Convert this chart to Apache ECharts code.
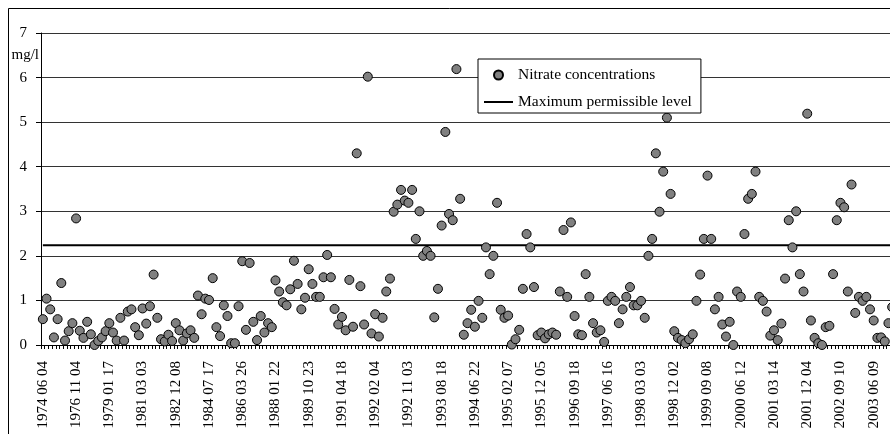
<!DOCTYPE html>
<html><head><meta charset="utf-8">
<script src="https://cdn.jsdelivr.net/npm/echarts@6/dist/echarts.min.js"></script>
<style>html,body{margin:0;padding:0;background:#fff}#c{width:890px;height:434px}</style>
</head><body><div id="c"></div>
<script>
const dateLabels = ["1974 06 04","1976 11 04","1979 01 17","1981 03 03","1982 12 08","1984 07 17","1986 03 26","1988 01 22","1989 10 23","1991 04 18","1992 02 04","1992 11 03","1993 08 18","1994 06 22","1995 02 07","1995 12 05","1996 09 18","1997 06 16","1998 03 03","1998 12 02","1999 09 08","2000 06 12","2001 03 14","2001 12 04","2002 09 10","2003 06 09"];
const nitrate = [
0.58,1.04,0.80,0.17,0.58,1.39,0.10,0.31,0.49,2.84,
0.32,0.16,0.52,0.24,0.00,0.09,0.17,0.31,0.49,0.28,
0.10,0.61,0.10,0.75,0.80,0.40,0.22,0.82,0.48,0.87,
1.58,0.61,0.13,0.08,0.23,0.09,0.49,0.33,0.10,0.26,
0.33,0.16,1.11,0.69,1.04,1.01,1.50,0.40,0.20,0.89,
0.65,0.04,0.04,0.87,1.88,0.34,1.84,0.52,0.11,0.65,
0.28,0.49,0.40,1.45,1.20,0.96,0.89,1.25,1.89,1.37,
0.80,1.06,1.70,1.37,1.08,1.08,1.52,2.02,1.52,0.81,
0.46,0.63,0.33,1.46,0.41,4.30,1.32,0.46,6.02,0.26,
0.69,0.19,0.61,1.20,1.49,2.99,3.15,3.48,3.24,3.19,
3.48,2.38,3.00,2.00,2.11,2.00,0.62,1.26,2.68,4.78,
2.94,2.80,6.19,3.28,0.23,0.49,0.79,0.41,0.99,0.61,
2.19,1.59,2.00,3.19,0.79,0.61,0.66,0.01,0.13,0.34,
1.26,2.49,2.19,1.30,0.22,0.28,0.15,0.24,0.28,0.23,
1.20,2.58,1.08,2.75,0.65,0.24,0.22,1.59,1.08,0.49,
0.28,0.33,0.07,0.99,1.08,0.99,0.49,0.80,1.08,1.30,
0.89,0.89,0.99,0.61,2.00,2.38,4.30,2.99,3.89,5.10,
3.39,0.31,0.16,0.11,0.04,0.13,0.24,0.99,1.58,2.38,
3.80,2.38,0.80,1.08,0.46,0.19,0.52,0.00,1.20,1.08,
2.49,3.28,3.39,3.89,1.08,0.99,0.75,0.21,0.33,0.11,
0.48,1.49,2.80,2.19,3.00,1.59,1.20,5.19,0.55,0.16,
0.04,0.00,0.40,0.43,1.59,2.80,3.19,3.09,1.20,3.60,
0.72,1.08,0.99,1.08,0.80,0.55,0.16,0.17,0.08,0.49,
0.85
];
const maxLevel = 2.24;
const seriesNames = ["Nitrate concentrations","Maximum permissible level"];
const unitLabel = "mg/l";
const labelStep = 9;

const categories = nitrate.map((v,i)=> i % labelStep === 0 ? dateLabels[i/labelStep] : ('m' + i));
const limitLine = nitrate.map(()=> maxLevel);
const serif = '"Liberation Serif", "Times New Roman", serif';

const chart = echarts.init(document.getElementById('c'), null, {renderer:'canvas'});
chart.setOption({
  animation:false,
  backgroundColor:'#fff',
  grid:{left:41, width:853, top:33, bottom:89, containLabel:false, outerBoundsMode:'none'},
  xAxis:{
    type:'category', data:categories, boundaryGap:true,
    axisLine:{lineStyle:{color:'#000', width:1}},
    axisTick:{show:true, interval:0, length:4, lineStyle:{color:'#000'}},
    axisLabel:{interval:labelStep-1, rotate:90, margin:16, fontFamily:serif, fontSize:15, color:'#000'},
    splitLine:{show:false}
  },
  yAxis:{
    type:'value', min:0, max:7, interval:1,
    axisLine:{show:true, lineStyle:{color:'#000'}},
    axisTick:{show:true, length:5, lineStyle:{color:'#000'}},
    axisLabel:{margin:14, fontFamily:serif, fontSize:15, color:'#000'},
    splitLine:{show:true, lineStyle:{color:'#333', width:1}}
  },
  legend:{
    left:478, top:59, orient:'vertical',
    itemWidth:29, itemHeight:9, itemGap:11,
    padding:[8,9,3,6],
    backgroundColor:'#fff', borderColor:'#000', borderWidth:1,
    symbolKeepAspect:true,
    textStyle:{fontFamily:serif, fontSize:15.5, color:'#000'},
    data:[
      {name:seriesNames[0], icon:'circle'},
      {name:seriesNames[1], icon:'path://M0,0 L29,0 L29,2 L0,2 Z'}
    ]
  },
  series:[
    {name:seriesNames[0], type:'scatter', data:nitrate, symbolSize:9, z:3,
     itemStyle:{color:'#808080', borderColor:'#000', borderWidth:1, opacity:1}},
    {name:seriesNames[1], type:'line', data:limitLine, symbol:'none', showSymbol:false, z:2,
     itemStyle:{color:'#000'},
     lineStyle:{color:'#000', width:2}}
  ],
  graphic:[
    {type:'rect', silent:true, z:0, shape:{x:8.5, y:8.5, width:1000, height:1000}, style:{fill:'none', stroke:'#000', lineWidth:1}},
    {type:'text', silent:true, x:39, y:55, style:{text:unitLabel, align:'right', verticalAlign:'middle', fontFamily:serif, fontSize:15, fill:'#000'}}
  ]
});
</script>
</body></html>
